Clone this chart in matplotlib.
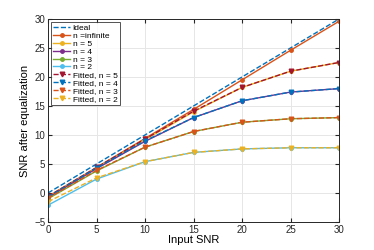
import matplotlib
matplotlib.use("Agg")
import matplotlib.pyplot as plt

# values
snr_in = [0, 5, 10, 15, 20, 25, 30]
ideal = [0, 5, 10, 15, 20, 25, 30]
n_inf = [-0.6, 4.4, 9.4, 14.4, 19.5, 24.6, 29.6]
n5 = [-0.7, 4.3, 9.2, 14.0, 18.2, 21.0, 22.5]
n4 = [-0.8, 4.2, 8.9, 13.0, 15.9, 17.4, 18.0]
n3 = [-1.0, 3.8, 7.9, 10.6, 12.2, 12.8, 13.0]
n2 = [-2.1, 2.4, 5.4, 7.0, 7.6, 7.8, 7.8]
fit5 = [-0.6, 4.4, 9.3, 14.1, 18.2, 21.0, 22.5]
fit4 = [-0.7, 4.3, 9.0, 13.0, 15.9, 17.4, 18.0]
fit3 = [-0.9, 3.9, 7.9, 10.6, 12.2, 12.8, 13.0]
fit2 = [-1.5, 2.6, 5.4, 7.0, 7.6, 7.8, 7.8]

C = ['#0072BD', '#D95319', '#EDB120', '#7E2F8E', '#77AC30', '#4DBEEE', '#A2142F']

plt.rcParams['font.family'] = ['Liberation Sans', 'DejaVu Sans']
fig = plt.figure(figsize=(3.74, 2.5), dpi=100)
ax = fig.add_axes([48/374, 28/250, 291/374, 203/250])

lw = 1.0
ms = 2.5
ax.plot(snr_in, ideal, '--', color=C[0], lw=lw, label='Ideal')
ax.plot(snr_in, n_inf, '-o', color=C[1], lw=lw, ms=ms, label='n =infinite')
ax.plot(snr_in, n5, '-o', color=C[2], lw=lw, ms=ms, label='n = 5')
ax.plot(snr_in, n4, '-o', color=C[3], lw=lw, ms=ms, label='n = 4')
ax.plot(snr_in, n3, '-o', color=C[4], lw=lw, ms=ms, label='n = 3')
ax.plot(snr_in, n2, '-o', color=C[5], lw=lw, ms=ms, label='n = 2')
ax.plot(snr_in, fit5, '--v', color=C[6], lw=lw, ms=ms+0.8, label='Fitted, n = 5')
ax.plot(snr_in, fit4, '--v', color=C[0], lw=lw, ms=ms+0.8, label='Fitted, n = 4')
ax.plot(snr_in, fit3, '--v', color=C[1], lw=lw, ms=ms+0.8, label='Fitted, n = 3')
ax.plot(snr_in, fit2, '--v', color=C[2], lw=lw, ms=ms+0.8, label='Fitted, n = 2')

ax.set_xlim(0, 30)
ax.set_ylim(-5, 30)
ax.set_xticks(snr_in)
ax.set_yticks(range(-5, 31, 5))
ax.grid(True, color='#e6e6e6', lw=0.7)
ax.set_axisbelow(True)
ax.tick_params(labelsize=7, direction='in', length=3, colors='#262626', top=True, right=True, pad=2)
for s in ax.spines.values():
    s.set_color('#262626')
    s.set_linewidth(0.7)
ax.set_xlabel('Input SNR', fontsize=8, labelpad=0)
ax.set_ylabel('SNR after equalization', fontsize=8, labelpad=3)

leg = ax.legend(loc='upper left', fontsize=6, handlelength=2.0, handletextpad=0.3,
                labelspacing=0.0, borderpad=0.25, borderaxespad=0.4, fancybox=False)
leg.get_frame().set_edgecolor('#262626')
leg.get_frame().set_linewidth(0.7)

fig.savefig('out.png', dpi=100)
